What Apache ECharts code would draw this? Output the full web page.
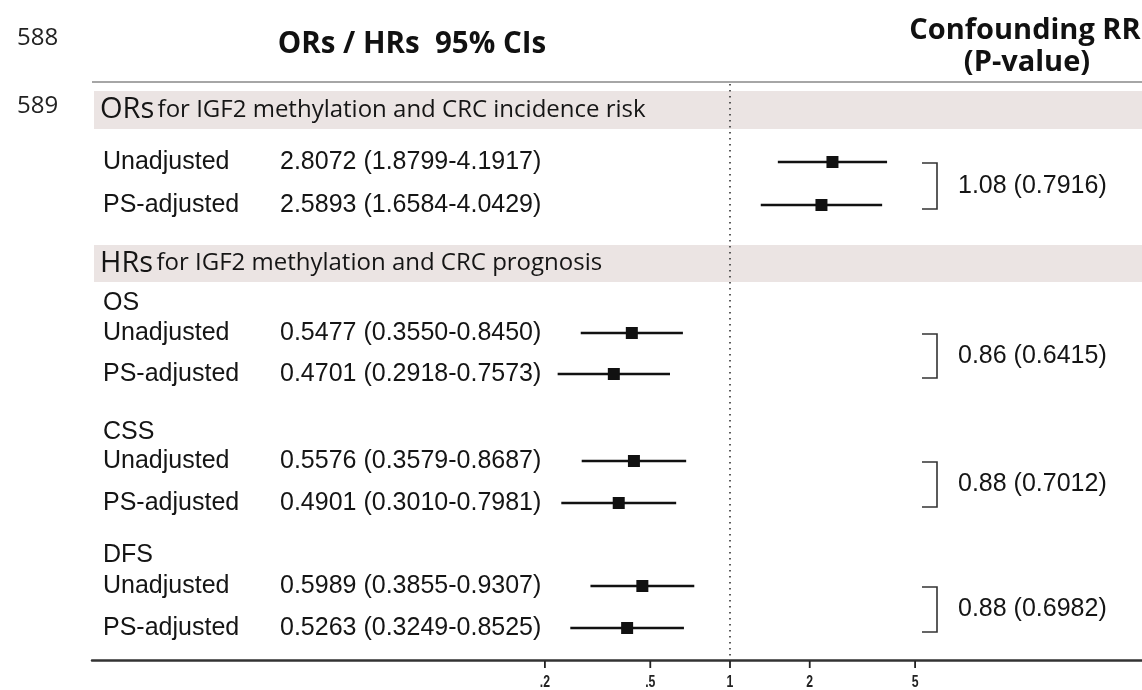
<!DOCTYPE html>
<html><head><meta charset="utf-8">
<script src="https://cdn.jsdelivr.net/npm/echarts@6/dist/echarts.min.js"></script>
<style>html,body{margin:0;padding:0;background:#fff}#c{width:1142px;height:690px}</style>
</head><body><div id="c"></div>
<script>
// ---------------- DATA ----------------
const rowLabels = ['Unadjusted', 'PS-adjusted', 'Unadjusted', 'PS-adjusted', 'Unadjusted', 'PS-adjusted', 'Unadjusted', 'PS-adjusted'];
const rowSection = [0, 0, 1, 1, 1, 1, 1, 1];   // 0 = ORs (incidence), 1 = HRs (prognosis)
const estimates = [2.8072, 2.5893, 0.5477, 0.4701, 0.5576, 0.4901, 0.5989, 0.5263];
const lowerCI   = [1.8799, 1.6584, 0.3550, 0.2918, 0.3579, 0.3010, 0.3855, 0.3249];
const upperCI   = [4.1917, 4.0429, 0.8450, 0.7573, 0.8687, 0.7981, 0.9307, 0.8525];
const subgroupTitles = ['OS', 'CSS', 'DFS'];
const sectionLead = ['ORs', 'HRs'];
const sectionRest = ['for IGF2 methylation and CRC incidence risk', 'for IGF2 methylation and CRC prognosis'];
const confoundingRR = ['1.08', '0.86', '0.88', '0.88'];
const confoundingP  = ['0.7916', '0.6415', '0.7012', '0.6982'];
const tickValues = [0.2, 0.5, 1, 2, 5];
const tickLabels = ['.2', '.5', '1', '2', '5'];
const lineNumbers = ['588', '589'];
const headerLeft = 'ORs / HRs  95% CIs';
const headerRight = ['Confounding RR', '(P-value)'];

// ---------------- LAYOUT ----------------
const L = {
  gridLeft: 92, gridTop: 84, gridBottomY: 660, width: 1142,
  rowY: [162, 205, 333, 374, 461, 503, 586, 628],
  titleY: [303, 432, 555],
  bands: [[91, 129], [245, 282]],
  bracketPairs: [[0, 1], [2, 3], [4, 5], [6, 7]],
  labelX: 103, estX: 280, bracketX: 937, bracketArm: 15, rrX: 958,
  tickLen: 8, tickLabelDy: 22,
  // log-scale ranges of the two panels' data axes and of the reference/tick axis
  sectionRange: [[0.01223, 27.24], [0.005604, 41.62]],
  refMin: 0.003897, refMax: 35.96
};
const ARIAL = '"Liberation Sans", Arial, sans-serif';
const OPEN = '"Open Sans", "Noto Sans", sans-serif';
const TXT = '#151515';
const FS = 25;

const chart = echarts.init(document.getElementById('c'), null, {renderer: 'canvas'});

const graphics = [];
graphics.push({type: 'text', x: 17, y: 38, style: {text: lineNumbers[0], font: '24px ' + OPEN, fill: '#222', verticalAlign: 'middle'}});
graphics.push({type: 'text', x: 17, y: 106, style: {text: lineNumbers[1], font: '24px ' + OPEN, fill: '#222', verticalAlign: 'middle'}});
graphics.push({type: 'text', x: 412, y: 45, style: {text: headerLeft, font: 'bold 29.5px ' + OPEN, fill: '#111', align: 'center', verticalAlign: 'middle'}});
graphics.push({type: 'text', x: 1025, y: 31, style: {text: headerRight[0], font: 'bold 29px ' + OPEN, fill: '#111', align: 'center', verticalAlign: 'middle'}});
graphics.push({type: 'text', x: 1027, y: 63, style: {text: headerRight[1], font: 'bold 29px ' + OPEN, fill: '#111', align: 'center', verticalAlign: 'middle'}});
graphics.push({type: 'line', shape: {x1: L.gridLeft, y1: 82, x2: L.width, y2: 82}, style: {stroke: '#a6a6a6', lineWidth: 2}});
L.bands.forEach((b, i) => {
  graphics.push({type: 'rect', z: 0, shape: {x: L.gridLeft + 2, y: b[0], width: L.width - L.gridLeft - 2, height: b[1] - b[0]}, style: {fill: '#ebe4e3'}});
  graphics.push({type: 'text', z: 1, x: 100, y: (b[0] + b[1]) / 2, style: {
    text: '{a|' + sectionLead[i] + '} {b|' + sectionRest[i] + '}',
    verticalAlign: 'middle',
    rich: {a: {fontFamily: OPEN, fontSize: 29, fill: TXT, color: TXT}, b: {fontFamily: OPEN, fontSize: 24, fill: TXT, color: TXT}}
  }});
});

const sectionXAxis = [0, 2];
const series = [];
[0, 1].forEach(s => {
  const idx = rowLabels.map((r, i) => i).filter(i => rowSection[i] === s);
  series.push({type: 'custom', xAxisIndex: sectionXAxis[s], yAxisIndex: 0, clip: false,
    encode: {x: [0, 1], y: 2},
    data: idx.map(i => [lowerCI[i], upperCI[i], L.rowY[i]]),
    renderItem: (params, api) => {
      const a = api.coord([api.value(0), api.value(2)]);
      const b = api.coord([api.value(1), api.value(2)]);
      return {type: 'line', shape: {x1: a[0], y1: a[1], x2: b[0], y2: b[1]}, style: {stroke: '#111', lineWidth: 2.6}};
    }});
  series.push({type: 'scatter', xAxisIndex: sectionXAxis[s], yAxisIndex: 0, symbol: 'rect', symbolSize: 12,
    itemStyle: {color: '#111', opacity: 1}, z: 5,
    data: idx.map(i => [estimates[i], L.rowY[i]])});
});

series.push(
  {type: 'scatter', xAxisIndex: 1, yAxisIndex: 0, symbolSize: 0, silent: true,
   data: [[1, L.gridBottomY]],
   markLine: {silent: true, symbol: ['none', 'none'], label: {show: false},
     lineStyle: {color: '#333', width: 1.6, type: [1.6, 4.4]},
     data: [{xAxis: 1}]}},
  {type: 'custom', xAxisIndex: 1, yAxisIndex: 0, clip: false,
   data: tickValues.map(v => [v, L.gridBottomY]),
   renderItem: (params, api) => {
     const cs = params.coordSys;
     const x = api.coord([api.value(0), api.value(1)])[0];
     const y0 = cs.y + cs.height;
     return {type: 'group', children: [
       {type: 'line', shape: {x1: x, y1: y0 + 1, x2: x, y2: y0 + L.tickLen}, style: {stroke: '#222', lineWidth: 1.8}},
       {type: 'text', x: x, y: y0 + L.tickLabelDy, scaleX: 0.72, style: {text: tickLabels[params.dataIndex], fontFamily: ARIAL, fontWeight: 'bold', fontSize: 17, fill: '#222', align: 'center', verticalAlign: 'middle'}}
     ]};
   }},
  {type: 'custom', xAxisIndex: 1, yAxisIndex: 0, clip: false,
   data: rowLabels.map((r, i) => [1, L.rowY[i]]),
   renderItem: (params, api) => {
     const i = params.dataIndex;
     const y = api.coord([1, api.value(1)])[1];
     const est = estimates[i].toFixed(4) + ' (' + lowerCI[i].toFixed(4) + '-' + upperCI[i].toFixed(4) + ')';
     return {type: 'group', children: [
       {type: 'text', x: L.labelX, y: y, style: {text: rowLabels[i], fontFamily: ARIAL, fontSize: FS, fill: TXT, verticalAlign: 'middle'}},
       {type: 'text', x: L.estX, y: y, style: {text: est, fontFamily: ARIAL, fontSize: FS, fill: TXT, verticalAlign: 'middle'}}
     ]};
   }},
  {type: 'custom', xAxisIndex: 1, yAxisIndex: 0, clip: false,
   data: subgroupTitles.map((t, i) => [1, L.titleY[i]]),
   renderItem: (params, api) => {
     const y = api.coord([1, api.value(1)])[1];
     return {type: 'text', x: L.labelX, y: y, style: {text: subgroupTitles[params.dataIndex], fontFamily: ARIAL, fontSize: FS, fill: TXT, verticalAlign: 'middle'}};
   }},
  {type: 'custom', xAxisIndex: 1, yAxisIndex: 0, clip: false,
   data: L.bracketPairs.map(p => [1, L.rowY[p[0]], L.rowY[p[1]]]),
   encode: {x: 0, y: [1, 2]},
   renderItem: (params, api) => {
     const i = params.dataIndex;
     const yTop = api.coord([1, api.value(1)])[1] + 1;
     const yBot = api.coord([1, api.value(2)])[1] + 4;
     const xb = L.bracketX, xa = L.bracketX - L.bracketArm;
     return {type: 'group', children: [
       {type: 'polyline', shape: {points: [[xa, yTop], [xb, yTop], [xb, yBot], [xa, yBot]]}, style: {stroke: '#333', lineWidth: 1.6, fill: null}},
       {type: 'text', x: L.rrX, y: (yTop + yBot) / 2, style: {text: confoundingRR[i] + ' (' + confoundingP[i] + ')', fontFamily: ARIAL, fontSize: FS, fill: TXT, verticalAlign: 'middle'}}
     ]};
   }}
);

const option = {
  animation: false,
  backgroundColor: '#fff',
  grid: {left: L.gridLeft, right: 0, top: L.gridTop, bottom: 690 - L.gridBottomY, containLabel: false, outerBoundsMode: 'none'},
  xAxis: [
    {type: 'log', min: L.sectionRange[0][0], max: L.sectionRange[0][1], show: false},
    {type: 'log', min: L.refMin, max: L.refMax, position: 'bottom',
     axisLine: {show: true, lineStyle: {color: '#333', width: 2.5}},
     axisTick: {show: false}, axisLabel: {show: false}, splitLine: {show: false}, minorTick: {show: false}},
    {type: 'log', min: L.sectionRange[1][0], max: L.sectionRange[1][1], show: false}
  ],
  yAxis: {type: 'value', inverse: true, min: L.gridTop, max: L.gridBottomY, show: false},
  graphic: graphics,
  series: series
};
chart.setOption(option);
</script>
</body></html>
